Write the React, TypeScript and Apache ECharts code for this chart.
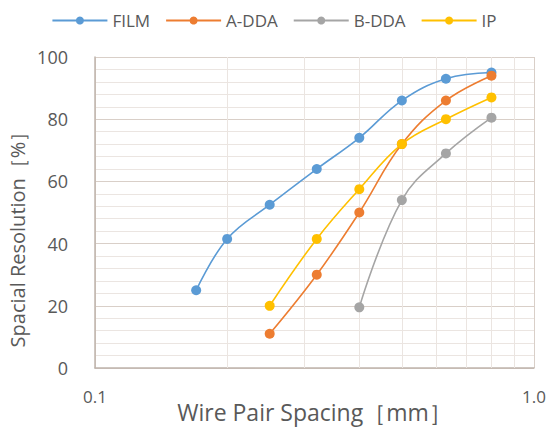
import React, { useEffect, useRef } from "react";
import * as echarts from "echarts";

const FILM_X = [0.17, 0.2, 0.25, 0.32, 0.4, 0.5, 0.63, 0.8];
const FILM_Y = [25, 41.5, 52.5, 64, 74, 86, 93, 95];
const ADDA_X = [0.25, 0.32, 0.4, 0.5, 0.63, 0.8];
const ADDA_Y = [11, 30, 50, 72, 86, 94];
const BDDA_X = [0.4, 0.5, 0.63, 0.8];
const BDDA_Y = [19.5, 54, 69, 80.5];
const IP_X = [0.25, 0.32, 0.4, 0.5, 0.63, 0.8];
const IP_Y = [20, 41.5, 57.5, 72, 80, 87];
const MINOR_X = [0.2, 0.3, 0.4, 0.5, 0.6, 0.7, 0.8, 0.9];

const SERIES_NAMES = ["FILM", "A-DDA", "B-DDA", "IP"];
const COLORS = ["#5B9BD5", "#ED7D31", "#A5A5A5", "#FFC000"];

const FONT = "'Open Sans', Lato, sans-serif";
const TEXT = "#595959";

export default function App() {
  const ref = useRef<HTMLDivElement>(null);
  useEffect(() => {
    if (!ref.current) return;
    const chart = echarts.init(ref.current, undefined, { renderer: "svg" });
    const xs = [FILM_X, ADDA_X, BDDA_X, IP_X];
    const ys = [FILM_Y, ADDA_Y, BDDA_Y, IP_Y];
    const series: any[] = SERIES_NAMES.map((name, i) => ({
      name,
      type: "line",
      smooth: 0.4,
      symbol: "circle",
      symbolSize: 10,
      data: xs[i].map((x, j) => [x, ys[i][j]]),
      lineStyle: { width: 1.6, color: COLORS[i] },
      itemStyle: { color: COLORS[i] },
      z: 3,
    }));
    series[0].markLine = {
      silent: true,
      symbol: "none",
      label: { show: false },
      lineStyle: { color: "#EBE5E1", width: 1, type: "solid" },
      data: MINOR_X.map((v) => ({ xAxis: v })),
      z: 1,
    };
    chart.setOption({
      animation: false,
      backgroundColor: "#ffffff",
      color: COLORS,
      textStyle: { fontFamily: FONT },
      legend: {
        top: 7,
        left: "center",
        itemWidth: 55,
        itemHeight: 10,
        itemGap: 15,
        textStyle: { fontSize: 17, color: TEXT, fontFamily: FONT },
        data: SERIES_NAMES,
      },
      grid: {
        left: 95,
        right: 14,
        top: 57,
        bottom: 60,
        containLabel: false,
        outerBoundsMode: "none",
      },
      xAxis: {
        type: "log",
        logBase: 10,
        min: 0.1,
        max: 1,
        name: "Wire Pair Spacing［mm］",
        nameLocation: "middle",
        nameGap: 32,
        nameMoveOverlap: false,
        nameTextStyle: { fontSize: 23, color: TEXT, fontFamily: FONT },
        axisLine: { show: true, lineStyle: { color: "#BFB4AC", width: 1.5 } },
        axisTick: { show: false },
        axisLabel: {
          fontSize: 17,
          color: TEXT,
          margin: 20,
          fontFamily: FONT,
          formatter: (v: number) => v.toFixed(1),
        },
        splitLine: { show: true, lineStyle: { color: "#D9CFC8", width: 1 } },
      },
      yAxis: {
        type: "value",
        min: 0,
        max: 100,
        interval: 20,
        name: "Spacial Resolution［%］",
        nameLocation: "middle",
        nameGap: 68,
        nameMoveOverlap: false,
        nameTextStyle: {
          fontSize: 20,
          color: TEXT,
          fontFamily: FONT,
          padding: [0, 44, 0, 0],
        },
        axisLine: { show: true, lineStyle: { color: "#BFB4AC", width: 1.5 } },
        axisTick: { show: false },
        axisLabel: { fontSize: 18, color: TEXT, margin: 27, fontFamily: FONT },
        splitLine: { show: true, lineStyle: { color: "#D9CFC8", width: 1 } },
        minorTick: { show: false, splitNumber: 5 },
        minorSplitLine: { show: true, lineStyle: { color: "#EBE5E1", width: 1 } },
      },
      series,
    });
    return () => chart.dispose();
  }, []);
  return (
    <div
      ref={ref}
      style={{ position: "absolute", left: 0, top: 0, width: 548, height: 428 }}
    />
  );
}
